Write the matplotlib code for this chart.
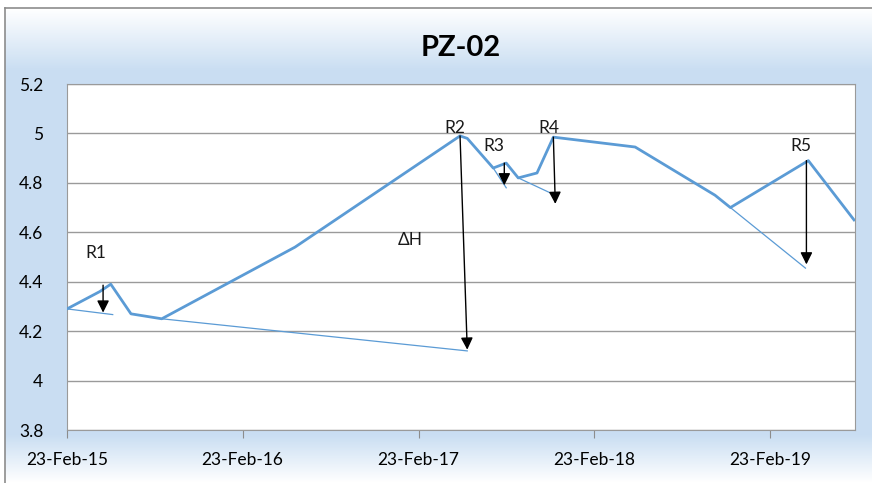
import numpy as np
import pandas as pd
import matplotlib
matplotlib.use('Agg')
import matplotlib.pyplot as plt
import matplotlib.dates as mdates

plt.rcParams['font.family'] = ['Lato', 'DejaVu Sans']

# water level, main series
dates = pd.to_datetime(['2015-02-23', '2015-05-02', '2015-05-25', '2015-07-06', '2015-09-08',
                        '2016-06-11', '2017-05-20', '2017-06-04', '2017-07-28', '2017-08-24',
                        '2017-09-18', '2017-10-27', '2017-11-30', '2018-05-19', '2018-11-01',
                        '2018-12-03', '2019-05-14', '2019-08-17'])
level = [4.29, 4.36, 4.39, 4.27, 4.25,
         4.54, 4.99, 4.98, 4.86, 4.88,
         4.82, 4.84, 4.985, 4.945, 4.75,
         4.70, 4.89, 4.65]

# extrapolated recession lines (start, end)
rec_dates = [('2015-02-23', '2015-05-29'), ('2015-09-08', '2017-06-04'), ('2017-07-28', '2017-08-24'),
             ('2017-09-18', '2017-12-04'), ('2018-12-03', '2019-05-08')]
rec_vals = [(4.29, 4.267), (4.25, 4.12), (4.86, 4.78), (4.82, 4.75), (4.70, 4.455)]

# rise arrows (date top, date bottom, top, bottom)
arr_dates = [('2015-05-09', '2015-05-09'), ('2017-05-20', '2017-06-04'), ('2017-08-20', '2017-08-20'),
             ('2017-11-30', '2017-12-04'), ('2019-05-10', '2019-05-10')]
arr_vals = [(4.386, 4.275), (4.99, 4.125), (4.88, 4.79), (4.985, 4.715), (4.89, 4.47)]

labels = ['R1', 'R2', 'R3', 'R4', 'R5', '\u0394H']
lab_dates = ['2015-04-24', '2017-05-10', '2017-07-30', '2017-11-21', '2019-04-28', '2017-02-05']
lab_vals = [4.515, 5.02, 4.95, 5.02, 4.95, 4.57]

W, H = 872, 483
fig = plt.figure(figsize=(W / 100, H / 100), dpi=100)
fig.patch.set_facecolor('white')

#background gradient like the excel chart area
bg = fig.add_axes([5 / W, 0, 1 - 5 / W, 1 - 8 / H], zorder=-5)
yy = np.linspace(0, 1, 300)
blue = np.array([0.79, 0.87, 0.95])
white = np.array([1.0, 1.0, 1.0])
t = np.clip((yy - 0.0) / 0.13, 0, 1)
t = t * np.clip((1 - yy) / 0.1, 0, 1)
grad = white[None, :] * (1 - t[:, None]) + blue[None, :] * t[:, None]
bg.imshow(grad[:, None, :], aspect='auto', extent=[0, 1, 0, 1], origin='upper')
bg.set_xlim(0, 1)
bg.set_ylim(0, 1)
bg.axis('off')
bg.plot([0, 0], [0, 1], color='#8c8c8c', lw=1.2, clip_on=False)
bg.plot([0, 1], [1, 1], color='#8c8c8c', lw=1.2, clip_on=False)

ax = fig.add_axes([67 / W, 1 - 430 / H, (855 - 67) / W, (430 - 84) / H])
ax.set_facecolor('white')

c = '#5b9bd5'
ax.plot(dates, level, color=c, lw=2.0, zorder=3)
for d, v in zip(rec_dates, rec_vals):
    ax.plot(pd.to_datetime(list(d)), v, color=c, lw=0.9, zorder=2)

for d, v in zip(arr_dates, arr_vals):
    d0, d1 = pd.to_datetime(list(d))
    ax.annotate('', xy=(d1, v[1]), xytext=(d0, v[0]),
                arrowprops=dict(arrowstyle='-|>', color='k', lw=1, mutation_scale=18,
                                shrinkA=0, shrinkB=0), zorder=4)

for l, d, v in zip(labels, lab_dates, lab_vals):
    ax.text(pd.Timestamp(d), v, l, ha='center', va='center', fontsize=12.5, color='#1a1a1a', zorder=5)

ax.set_xlim(pd.Timestamp('2015-02-23'), pd.Timestamp('2019-08-19'))
ax.set_ylim(3.8, 5.2)
ax.set_yticks(np.arange(3.8, 5.21, 0.2))
ax.set_yticklabels(['3.8', '4', '4.2', '4.4', '4.6', '4.8', '5', '5.2'])
ax.set_xticks(pd.to_datetime(['2015-02-23', '2016-02-23', '2017-02-23', '2018-02-23', '2019-02-23']))
ax.xaxis.set_major_formatter(mdates.DateFormatter('%d-%b-%y'))
ax.grid(axis='y', color='#9a9a9a', lw=1)
ax.set_axisbelow(True)
ax.tick_params(axis='y', length=0, pad=17, labelsize=12.5)
ax.tick_params(axis='x', length=6, color='#8c8c8c', pad=10, labelsize=12.5)
for s in ax.spines.values():
    s.set_color('#9a9a9a')

fig.text(0.5 * (67 + 855) / W + 0.0, 1 - 48 / H, 'PZ-02', ha='center', va='center',
         fontsize=21, fontweight='bold')

fig.savefig('out.png', dpi=100)
